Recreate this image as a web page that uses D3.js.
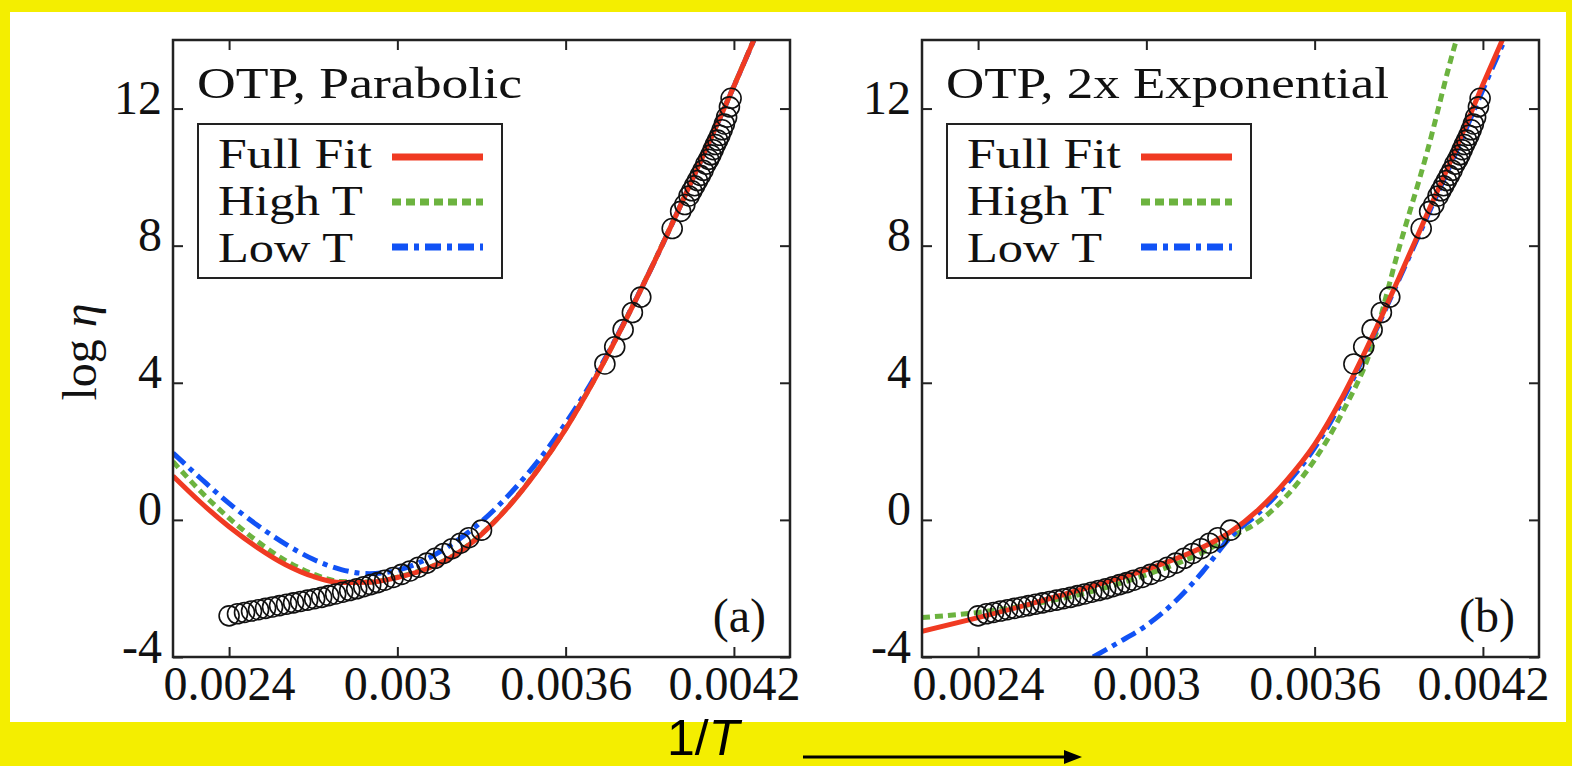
<!DOCTYPE html>
<html>
<head>
<meta charset="utf-8">
<script src="https://cdn.jsdelivr.net/npm/d3@7"></script>
<style>
  html, body { margin: 0; padding: 0; background: #f4ee00; }
  svg { display: block; }
</style>
</head>
<body>
<svg id="chart" width="1572" height="766"></svg>
<script>
// ---------------- DATA ----------------
const xTicks = [0.0024, 0.003, 0.0036, 0.0042];
const xTickLabels = ["0.0024", "0.003", "0.0036", "0.0042"];
const yTicks = [-4, 0, 4, 8, 12];
const yTickLabels = ["-4", "0", "4", "8", "12"];
const xDomain = [0.0022, 0.0044];
const yDomain = [-4, 14];

const panelTitles = ["OTP, Parabolic", "OTP, 2x Exponential"];
const panelTags = ["(a)", "(b)"];
const legendLabels = ["Full Fit", "High T", "Low T"];

// measured OTP data: [1/T, log eta]
const dataPoints = [
  [0.002400,-2.80],[0.002430,-2.74],[0.002455,-2.70],[0.002480,-2.66],[0.002505,-2.62],
  [0.002530,-2.58],[0.002555,-2.54],[0.002580,-2.50],[0.002605,-2.46],[0.002630,-2.42],
  [0.002655,-2.38],[0.002680,-2.34],[0.002705,-2.30],[0.002730,-2.26],[0.002755,-2.21],
  [0.002780,-2.16],[0.002805,-2.11],[0.002830,-2.06],[0.002855,-2.01],[0.002880,-1.95],
  [0.002905,-1.89],[0.002930,-1.83],[0.002955,-1.76],[0.002985,-1.68],[0.003015,-1.59],
  [0.003045,-1.49],[0.003075,-1.38],[0.003105,-1.26],[0.003135,-1.12],[0.003165,-0.98],
  [0.003195,-0.84],[0.003225,-0.68],[0.003255,-0.52],[0.003300,-0.30],
  [0.003740,4.55],[0.003775,5.05],[0.003805,5.55],[0.003838,6.05],[0.003868,6.50],
  [0.003980,8.50],[0.004010,9.00],[0.004025,9.20],[0.004040,9.45],[0.004050,9.60],
  [0.004060,9.75],[0.004070,9.90],[0.004080,10.05],[0.004090,10.20],[0.004100,10.38],
  [0.004110,10.52],[0.004118,10.65],[0.004126,10.80],[0.004134,10.95],[0.004142,11.08],
  [0.004150,11.22],[0.004158,11.38],[0.004166,11.55],[0.004174,11.75],[0.004184,12.05],
  [0.004190,12.30]
];

// Panel (a): parabolic fits
const parabolicFull = [
  [0.00220,1.28],[0.00230,0.50],[0.00240,-0.20],[0.00250,-0.80],[0.00260,-1.30],
  [0.00270,-1.65],[0.00280,-1.83],[0.00290,-1.82],[0.00300,-1.68],[0.00310,-1.44],
  [0.00320,-1.05],[0.00330,-0.42],[0.00340,0.42],[0.00350,1.45],[0.00360,2.65],
  [0.00370,4.05],[0.00380,5.60],[0.00390,7.25],[0.00400,9.00],[0.00410,10.80],
  [0.00420,12.65],[0.00430,14.55]
];
const parabolicHigh = [
  [0.00220,1.70],[0.00230,0.82],[0.00240,0.05],[0.00250,-0.62],[0.00260,-1.18],
  [0.00270,-1.58],[0.00280,-1.80],[0.00290,-1.81],[0.00300,-1.67],[0.00310,-1.43],
  [0.00320,-1.04],[0.00330,-0.41],[0.00340,0.43],[0.00350,1.46],[0.00360,2.66],
  [0.00370,4.06],[0.00380,5.61],[0.00390,7.26],[0.00400,9.01],[0.00410,10.81],
  [0.00420,12.66],[0.00430,14.56]
];
const parabolicLow = [
  [0.00220,1.95],[0.00230,1.20],[0.00240,0.48],[0.00250,-0.15],[0.00260,-0.70],
  [0.00270,-1.15],[0.00280,-1.45],[0.00290,-1.57],[0.00300,-1.47],[0.00310,-1.16],
  [0.00320,-0.68],[0.00330,-0.05],[0.00340,0.75],[0.00350,1.70],[0.00360,2.82],
  [0.00370,4.12],[0.00380,5.62],[0.00390,7.25],[0.00400,9.00],[0.00410,10.80],
  [0.00420,12.65],[0.00430,14.55]
];

// Panel (b): double exponential fits
const expFull = [
  [0.00220,-3.25],[0.00240,-2.85],[0.00260,-2.42],[0.00280,-1.95],[0.00300,-1.45],
  [0.00320,-0.80],[0.00330,-0.35],[0.00340,0.30],[0.00350,1.15],[0.00360,2.20],
  [0.00370,3.60],[0.00380,5.25],[0.00390,7.05],[0.00400,8.90],[0.00410,10.75],
  [0.00420,12.70],[0.00428,14.20]
];
const expHigh = [
  [0.00220,-2.85],[0.00240,-2.70],[0.00260,-2.45],[0.00280,-2.10],[0.00300,-1.60],
  [0.00320,-0.95],[0.00330,-0.50],[0.00340,-0.05],[0.00350,0.70],[0.00360,1.75],
  [0.00370,3.15],[0.00380,4.95],[0.00390,7.90],[0.00400,10.70],[0.00410,13.85],[0.00412,14.40]
];
const expLow = [
  [0.00281,-4.00],[0.00290,-3.58],[0.00300,-3.08],[0.00310,-2.40],[0.00320,-1.52],
  [0.00330,-0.50],[0.00340,0.20],[0.00350,1.05],[0.00360,2.10],[0.00370,3.50],
  [0.00380,5.20],[0.00390,7.00],[0.00400,8.82],[0.00410,10.65],[0.00420,12.55],[0.00428,14.05]
];

// ---------------- DRAWING ----------------
const svg = d3.select("#chart");
const serif = "'Liberation Serif', 'Times New Roman', serif";
const colors = { full: "#f03a22", high: "#6cb33f", low: "#1152f5" };

svg.append("rect").attr("x", 0).attr("y", 0).attr("width", 1572).attr("height", 766).attr("fill", "#f4ee00");
svg.append("rect").attr("x", 10).attr("y", 12).attr("width", 1556).attr("height", 710).attr("fill", "#ffffff");

const panels = [
  { left: 173, full: parabolicFull, high: parabolicHigh, low: parabolicLow, titleLen: 325 },
  { left: 922, full: expFull, high: expHigh, low: expLow, titleLen: 443 }
];
const plotTop = 40, plotBottom = 657, plotWidth = 617;

panels.forEach((p, i) => {
  const x = d3.scaleLinear().domain(xDomain).range([p.left, p.left + plotWidth]);
  const y = d3.scaleLinear().domain(yDomain).range([plotBottom, plotTop]);
  const g = svg.append("g");

  const clipId = "clip" + i;
  svg.append("clipPath").attr("id", clipId).append("rect")
    .attr("x", p.left).attr("y", plotTop).attr("width", plotWidth).attr("height", plotBottom - plotTop);

  const plot = g.append("g").attr("clip-path", `url(#${clipId})`);
  const line = d3.line().x(d => x(d[0])).y(d => y(d[1])).curve(d3.curveMonotoneX);

  plot.append("path").datum(p.high).attr("d", line).attr("fill", "none")
    .attr("stroke", colors.high).attr("stroke-width", 5).attr("stroke-dasharray", "8,5");
  plot.append("path").datum(p.low).attr("d", line).attr("fill", "none")
    .attr("stroke", colors.low).attr("stroke-width", 5).attr("stroke-dasharray", "16,6,5,6");
  plot.append("path").datum(p.full).attr("d", line).attr("fill", "none")
    .attr("stroke", colors.full).attr("stroke-width", 5);

  plot.selectAll("circle.pt").data(dataPoints).enter().append("circle")
    .attr("class", "pt")
    .attr("cx", d => x(d[0])).attr("cy", d => y(d[1])).attr("r", 10)
    .attr("fill", "none").attr("stroke", "#111").attr("stroke-width", 1.6);

  // axes
  const axB = g.append("g").attr("transform", `translate(0,${plotBottom})`)
    .call(d3.axisBottom(x).tickValues(xTicks).tickFormat((d, k) => xTickLabels[k]).tickSizeInner(-10).tickSizeOuter(0));
  const axT = g.append("g").attr("transform", `translate(0,${plotTop})`)
    .call(d3.axisTop(x).tickValues(xTicks).tickFormat("").tickSizeInner(-10).tickSizeOuter(0));
  const axL = g.append("g").attr("transform", `translate(${p.left},0)`)
    .call(d3.axisLeft(y).tickValues(yTicks).tickFormat((d, k) => yTickLabels[k]).tickSizeInner(-10).tickSizeOuter(0));
  const axR = g.append("g").attr("transform", `translate(${p.left + plotWidth},0)`)
    .call(d3.axisRight(y).tickValues(yTicks).tickFormat("").tickSizeInner(-10).tickSizeOuter(0));
  [axB, axT, axL, axR].forEach(a => {
    a.select(".domain").remove();
    a.selectAll(".tick line").attr("stroke", "#222").attr("stroke-width", 2);
  });
  axB.selectAll(".tick text").attr("y", 43).attr("dy", 0)
    .style("font-family", serif).style("font-size", "48px").attr("fill", "#111");
  axL.selectAll(".tick text").attr("x", -11).attr("dy", 5)
    .style("font-family", serif).style("font-size", "48px").attr("fill", "#111")
    .attr("text-anchor", "end");

  g.append("rect").attr("x", p.left).attr("y", plotTop).attr("width", plotWidth).attr("height", plotBottom - plotTop)
    .attr("fill", "none").attr("stroke", "#222").attr("stroke-width", 2.5);

  // title
  g.append("text").attr("x", p.left + 24).attr("y", 98)
    .attr("textLength", p.titleLen).attr("lengthAdjust", "spacingAndGlyphs")
    .style("font-family", serif).style("font-size", "45px").attr("fill", "#111")
    .text(panelTitles[i]);

  // legend
  const lg = g.append("g").attr("transform", `translate(${p.left + 25},124)`);
  lg.append("rect").attr("x", 0).attr("y", 0).attr("width", 304).attr("height", 154)
    .attr("fill", "#fff").attr("stroke", "#222").attr("stroke-width", 2);
  const textLens = [154, 145, 135];
  const styles = [
    { c: colors.full, dash: null },
    { c: colors.high, dash: "9,5" },
    { c: colors.low, dash: "16,6,5,6" }
  ];
  legendLabels.forEach((lab, k) => {
    lg.append("text").attr("x", 20).attr("y", 44 + k * 47)
      .attr("textLength", textLens[k]).attr("lengthAdjust", "spacingAndGlyphs")
      .style("font-family", serif).style("font-size", "42px").attr("fill", "#111")
      .text(lab);
    const ln = lg.append("line").attr("x1", 194).attr("x2", 285)
      .attr("y1", 33 + k * 45).attr("y2", 33 + k * 45)
      .attr("stroke", styles[k].c).attr("stroke-width", 7);
    if (styles[k].dash) ln.attr("stroke-dasharray", styles[k].dash);
  });

  // panel tag
  g.append("text").attr("x", p.left + plotWidth - 24).attr("y", 632).attr("text-anchor", "end")
    .style("font-family", serif).style("font-size", "48px").attr("fill", "#111")
    .text(panelTags[i]);
});

// y axis label
const yl = svg.append("text").attr("transform", "translate(96,352) rotate(-90)")
  .attr("text-anchor", "middle")
  .style("font-family", serif).style("font-size", "48px").attr("fill", "#111");
yl.append("tspan").text("log ");
yl.append("tspan").style("font-style", "italic").text("η");

// bottom 1/T label and arrow
const xl = svg.append("text").attr("x", 667).attr("y", 755)
  .style("font-family", "'Liberation Sans', Arial, sans-serif").style("font-size", "50px").attr("fill", "#000");
xl.append("tspan").text("1/");
xl.append("tspan").style("font-style", "italic").text("T");

svg.append("line").attr("x1", 803).attr("x2", 1068).attr("y1", 757).attr("y2", 757)
  .attr("stroke", "#000").attr("stroke-width", 3);
svg.append("path").attr("d", "M1064,750 L1082,757 L1064,764 Z").attr("fill", "#000");
</script>
</body>
</html>
